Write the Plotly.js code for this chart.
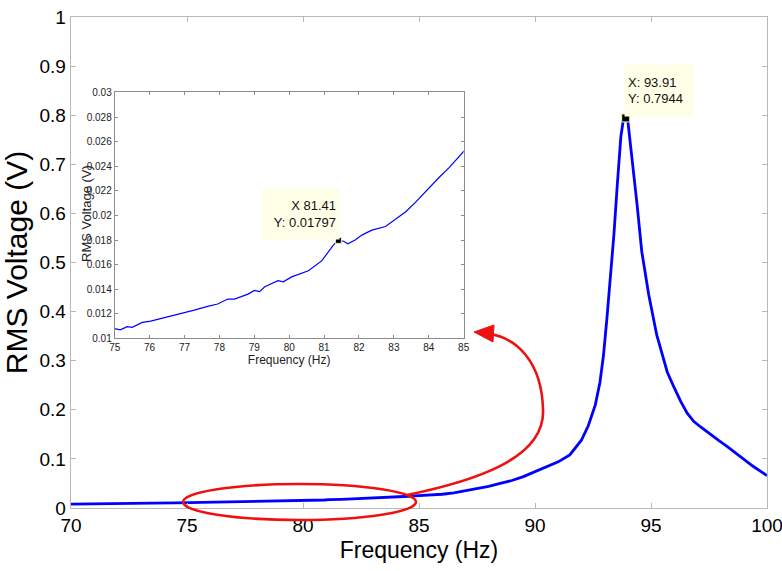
<!DOCTYPE html>
<html>
<head>
<meta charset="utf-8">
<script src="https://cdn.plot.ly/plotly-3.0.1.min.js"></script>
<style>
  html, body { margin: 0; padding: 0; background: #ffffff; }
  #chart { width: 782px; height: 571px; }
</style>
</head>
<body>
<div id="chart"></div>
<script>
// Measured frequency response of the harvester (RMS output voltage vs drive frequency)
const freq = [
  70, 70.6, 70.7, 71.5, 72.5, 73.5, 74.5,
  75, 75.16, 75.36, 75.5, 75.79, 76.03, 76.32, 76.71, 77.0, 77.28, 77.66, 77.95,
  78.24, 78.43, 78.82, 79.0, 79.15, 79.3, 79.68, 79.83, 80.07, 80.55, 80.93, 81.13,
  81.27, 81.41, 81.56, 81.68, 81.89, 82.08, 82.37, 82.76, 82.95, 83.34, 83.63, 83.92,
  84.3, 84.59, 85.0,
  85.5, 86, 86.5, 87, 87.5, 88, 88.5, 89, 89.5, 90, 90.5, 91, 91.5, 92, 92.3, 92.6,
  92.8, 92.95, 93.1, 93.25, 93.4, 93.55, 93.7, 93.8, 93.91, 94.0, 94.18, 94.4, 94.6,
  94.9, 95.25, 95.7, 96.0, 96.28, 96.56, 96.85, 97.14, 97.57, 97.9, 98.29, 98.65,
  99.02, 99.4, 100
];
const volt = [
  0.0080, 0.0081, 0.0088, 0.0091, 0.0095, 0.0099, 0.0104,
  0.0108, 0.0107, 0.01096, 0.0109, 0.0113, 0.0114, 0.0116, 0.0119, 0.0121, 0.0123, 0.0126, 0.0128,
  0.0132, 0.0132, 0.0136, 0.0139, 0.0138, 0.0142, 0.0147, 0.0146, 0.0150, 0.0155, 0.0163, 0.0171,
  0.0176, 0.01797, 0.0179, 0.0177, 0.0180, 0.0184, 0.0188, 0.0191, 0.0195, 0.0203, 0.0211, 0.0220,
  0.0231, 0.0239, 0.0252,
  0.0265, 0.028, 0.031, 0.035, 0.039, 0.044, 0.050, 0.056, 0.064, 0.074, 0.084, 0.094, 0.108, 0.138, 0.168, 0.210,
  0.256, 0.310, 0.386, 0.468, 0.556, 0.660, 0.756, 0.788, 0.7944, 0.789, 0.714, 0.618, 0.523,
  0.435, 0.352, 0.277, 0.245, 0.217, 0.193, 0.176, 0.165, 0.149, 0.138, 0.125, 0.112,
  0.099, 0.085, 0.066
];

// Data-tip points: resonance peak and the small dip near 81 Hz
const tipFreq = [93.91, 81.41];
const tipVolt = [0.7944, 0.01797];

// Axis ticks
const mainXTicks = [70, 75, 80, 85, 90, 95, 100];
const mainYTicks = [0, 0.1, 0.2, 0.3, 0.4, 0.5, 0.6, 0.7, 0.8, 0.9, 1];
const zoomXTicks = [75, 76, 77, 78, 79, 80, 81, 82, 83, 84, 85];
const zoomYTicks = [0.01, 0.012, 0.014, 0.016, 0.018, 0.02, 0.022, 0.024, 0.026, 0.028, 0.03];

const W = 782, H = 571;
const M = { l: 71, r: 15, t: 17, b: 63 };
const plotW = W - M.l - M.r, plotH = H - M.t - M.b;
// pixel -> paper fraction helpers for the hand-drawn callout
const px = x => +((x - M.l) / plotW).toFixed(4);
const py = y => +((H - M.b - y) / plotH).toFixed(4);

const FONT = 'Liberation Sans, Arial, sans-serif';
const mainAxisColor = '#b8b8b8';
const insetAxisColor = '#8c8c8c';

const traces = [
  { x: freq, y: volt, xaxis: 'x', yaxis: 'y', mode: 'lines',
    line: { color: '#0000ff', width: 2.8 }, hoverinfo: 'skip' },
  { x: [tipFreq[0]], y: [tipVolt[0]], xaxis: 'x', yaxis: 'y', mode: 'markers',
    marker: { symbol: 'square', size: 8, color: '#000000', line: { color: '#f0f0c0', width: 1 } } },
  { x: freq, y: volt, xaxis: 'x2', yaxis: 'y2', mode: 'lines',
    line: { color: '#0000ff', width: 1.2 }, hoverinfo: 'skip' },
  { x: [tipFreq[1]], y: [tipVolt[1]], xaxis: 'x2', yaxis: 'y2', mode: 'markers',
    marker: { symbol: 'square', size: 6, color: '#000000', line: { color: '#f0f0c0', width: 1 } } }
];

const axisCommon = {
  ticks: 'inside', mirror: 'ticks', showline: true, showgrid: false, zeroline: false,
  tickmode: 'array', ticklabeloverflow: 'allow'
};

// Red callout: ellipse around 75–85 Hz and a curved arrow pointing at the zoomed view
const arrowPath = `M ${px(407)} ${py(495)} C ${px(470)} ${py(482)}, ${px(545)} ${py(460)}, ${px(543)} ${py(410)} ` +
                  `C ${px(542)} ${py(360)}, ${px(515)} ${py(338)}, ${px(490)} ${py(334)}`;
const headPath = `M ${px(474)} ${py(332)} L ${px(494)} ${py(325)} L ${px(493)} ${py(342)} Z`;

const layout = {
  width: W, height: H,
  margin: M,
  paper_bgcolor: '#ffffff', plot_bgcolor: 'rgba(0,0,0,0)',
  showlegend: false,
  font: { family: FONT, color: '#000000' },
  xaxis: Object.assign({}, axisCommon, {
    domain: [0, 1], anchor: 'y', range: [70, 100.0001],
    tickvals: mainXTicks, ticktext: mainXTicks.map(String),
    ticklen: 5, tickwidth: 1, tickcolor: mainAxisColor, linecolor: mainAxisColor, linewidth: 1.3,
    tickfont: { size: 19, family: FONT, color: '#000000' }, ticklabelstandoff: 0,
    title: { text: 'Frequency (Hz)', font: { size: 23, family: FONT }, standoff: 6 }
  }),
  yaxis: Object.assign({}, axisCommon, {
    domain: [0, 1], anchor: 'x', range: [0, 1],
    tickvals: mainYTicks, ticktext: mainYTicks.map(String),
    ticklen: 5, tickwidth: 1, tickcolor: mainAxisColor, linecolor: mainAxisColor, linewidth: 1.3,
    tickfont: { size: 19, family: FONT, color: '#000000' }, ticklabelstandoff: 0,
    title: { text: 'RMS Voltage (V)', font: { size: 30, family: FONT }, standoff: 4 }
  }),
  xaxis2: Object.assign({}, axisCommon, {
    domain: [0.0628, 0.5642], anchor: 'y2', range: [75, 85],
    tickvals: zoomXTicks, ticktext: zoomXTicks.map(String),
    ticklen: 3, tickwidth: 1, tickcolor: insetAxisColor, linecolor: insetAxisColor, linewidth: 1,
    tickfont: { size: 10, family: FONT, color: '#222222' }, ticklabelstandoff: 0,
    title: { text: 'Frequency (Hz)', font: { size: 12, family: FONT, color: '#222222' }, standoff: 2 }
  }),
  yaxis2: Object.assign({}, axisCommon, {
    domain: [0.3454, 0.8464], anchor: 'x2', range: [0.01, 0.03],
    tickvals: zoomYTicks, ticktext: zoomYTicks.map(v => String(+v.toFixed(3))),
    ticklen: 3, tickwidth: 1, tickcolor: insetAxisColor, linecolor: insetAxisColor, linewidth: 1,
    tickfont: { size: 10, family: FONT, color: '#222222' }, ticklabelstandoff: 0
  }),
  shapes: [
    { type: 'circle', xref: 'paper', yref: 'paper',
      x0: px(183), x1: px(416), y0: py(520), y1: py(484),
      line: { color: '#ee1111', width: 2.6 }, fillcolor: 'rgba(0,0,0,0)', layer: 'above' },
    { type: 'path', xref: 'paper', yref: 'paper', path: arrowPath,
      line: { color: '#ee1111', width: 2.6 }, layer: 'above' },
    { type: 'path', xref: 'paper', yref: 'paper', path: headPath,
      line: { color: '#ee1111', width: 1 }, fillcolor: '#ee1111', layer: 'above' }
  ],
  annotations: [
    // inset y-axis title sits over its tick labels
    { xref: 'paper', yref: 'paper', x: px(87), y: py(214), xanchor: 'center', yanchor: 'middle',
      showarrow: false, textangle: -90, text: 'RMS Voltage (V)',
      font: { size: 13, family: FONT, color: '#222222' } },
    { xref: 'x', yref: 'y', x: tipFreq[0], y: tipVolt[0], xanchor: 'left', yanchor: 'bottom',
      showarrow: false, xshift: -2, yshift: 1, align: 'left', valign: 'middle',
      width: 62, height: 45, borderpad: 3, bgcolor: '#ffffe8',
      text: `X: ${tipFreq[0]}<br>Y: ${tipVolt[0]}`,
      font: { size: 13, family: FONT, color: '#111111' } },
    { xref: 'x2', yref: 'y2', x: tipFreq[1], y: tipVolt[1], xanchor: 'right', yanchor: 'bottom',
      showarrow: false, xshift: 2, yshift: 0, align: 'right', valign: 'middle',
      width: 70, height: 44, borderpad: 3, bgcolor: '#ffffe8',
      text: `X ${tipFreq[1]}<br>Y: ${tipVolt[1]}`,
      font: { size: 13, family: FONT, color: '#111111' } }
  ]
};

Plotly.newPlot('chart', traces, layout, { staticPlot: true, displayModeBar: false });
</script>
</body>
</html>
